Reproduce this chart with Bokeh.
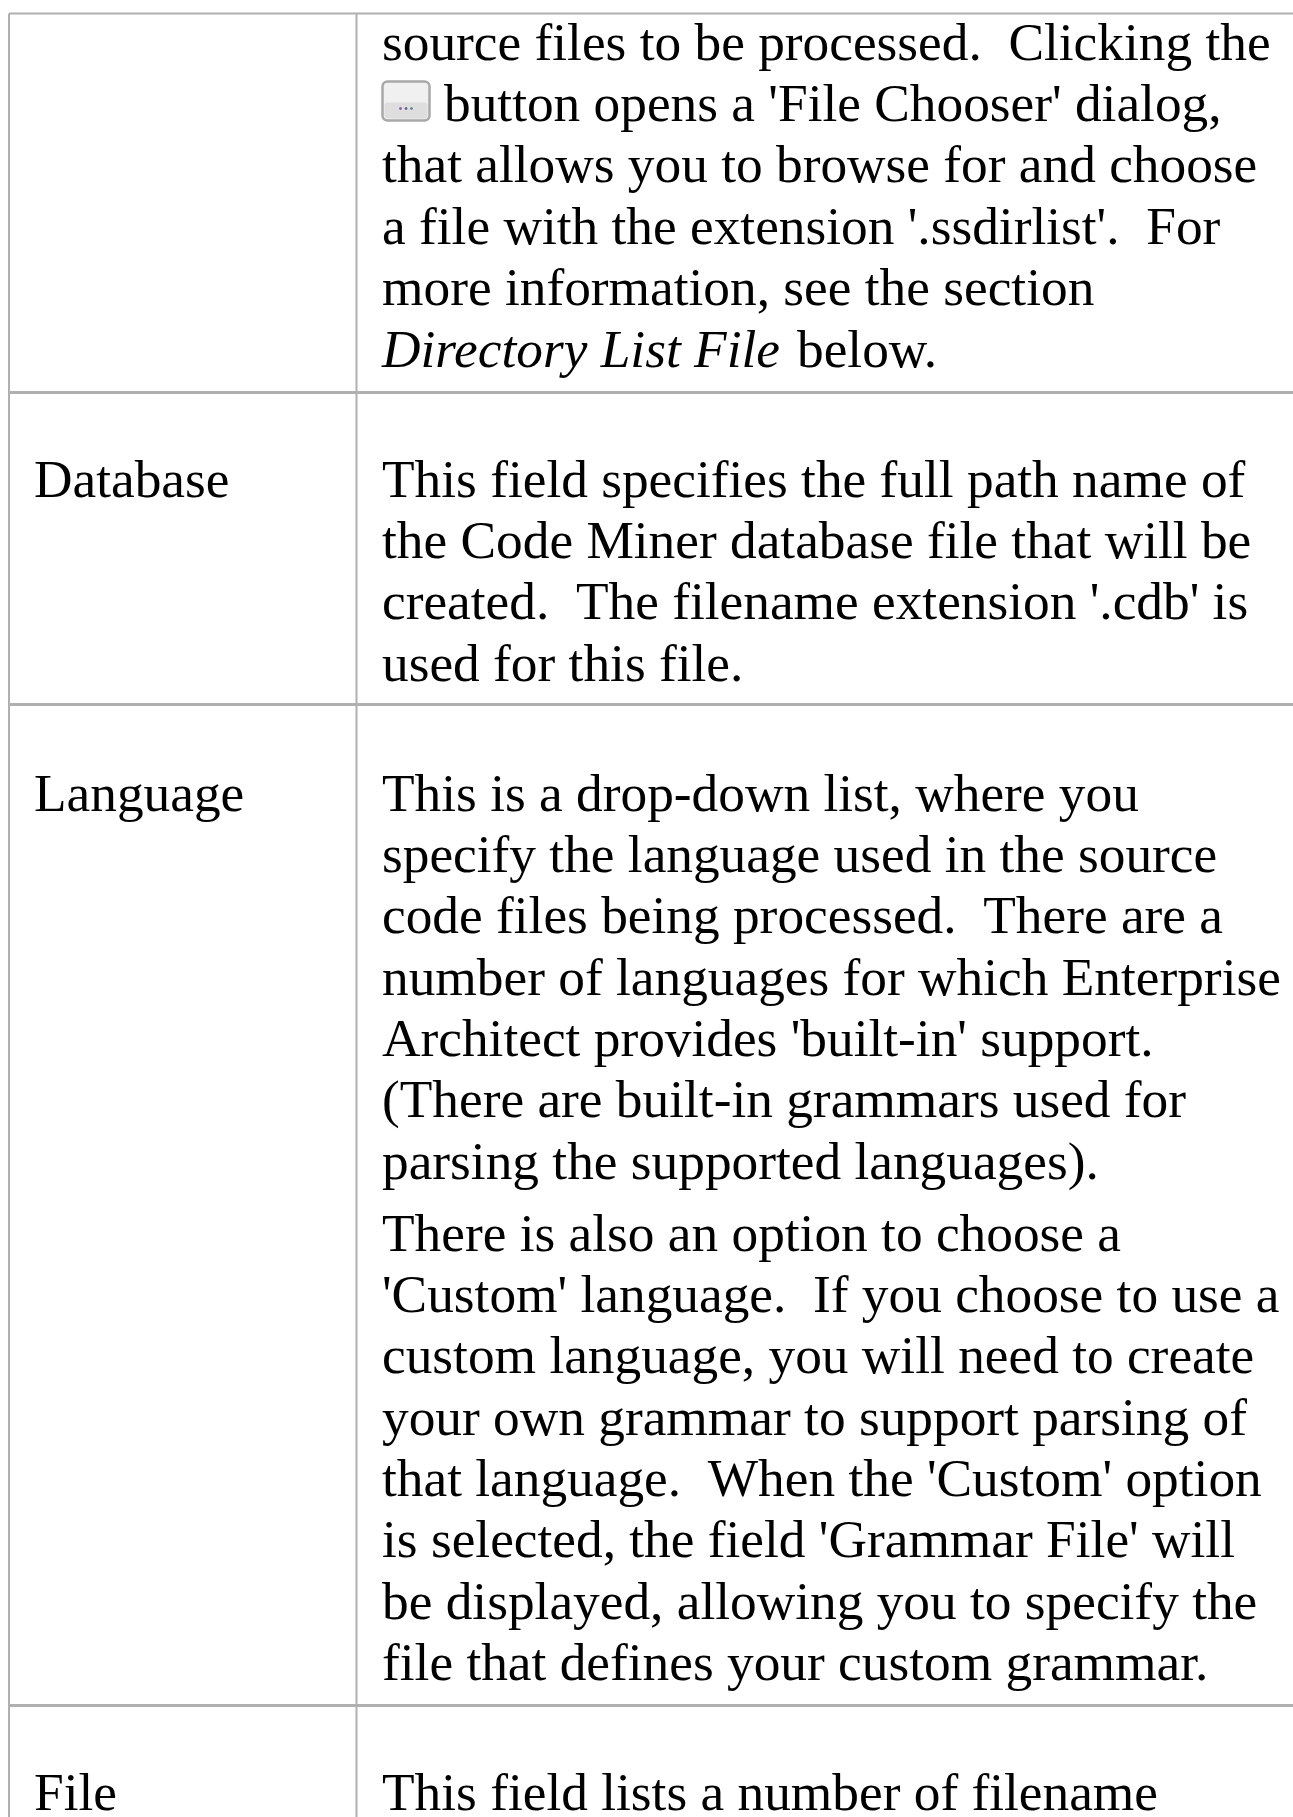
from bokeh.plotting import figure
from bokeh.embed import file_html
from bokeh.resources import INLINE
from bokeh.core.properties import value
from bokeh.models import Range1d

FONT = "Liberation Serif"
FONT_SIZE = "53.33px"
PITCH = 61.35
S = "\u00a0"

left_labels = ["Database", "Language", "File"]
left_baselines = [478, 792, 1791]

para_first = [41, 478, 792, 1232, 1791]
para_lines = [
    [f"source files to be processed. {S}Clicking the",
     "",
     "that allows you to browse for and choose",
     f"a file with the extension '.ssdirlist'. {S}For",
     "more information, see the section"],
    ["This field specifies the full path name of",
     "the Code Miner database file that will be",
     f"created. {S}The filename extension '.cdb' is",
     "used for this file."],
    ["This is a drop-down list, where you",
     "specify the language used in the source",
     f"code files being processed. {S}There are a",
     "number of languages for which Enterprise",
     "Architect provides 'built-in' support.",
     "(There are built-in grammars used for",
     "parsing the supported languages)."],
    ["There is also an option to choose a",
     f"'Custom' language. {S}If you choose to use a",
     "custom language, you will need to create",
     "your own grammar to support parsing of",
     f"that language. {S}When the 'Custom' option",
     "is selected, the field 'Grammar File' will",
     "be displayed, allowing you to specify the",
     "file that defines your custom grammar."],
    ["This field lists a number of filename"],
]
button_line = "button opens a 'File Chooser' dialog,"
italic_text = "Directory List File"
italic_tail = "below."
italic_baseline = 348

row_rules = [392, 704, 1705]
W, H = 1293, 1817
TOP, LEFT, DIV = 13, 8.5, 356
TEXT_X, LABEL_X = 381.5, 33.5
RULE = "#b0b0b0"

p = figure(width=W, height=H, output_backend="svg", toolbar_location=None,
           x_range=Range1d(0, W), y_range=Range1d(H, 0),
           min_border=0, outline_line_color=None)
p.axis.visible = False
p.xgrid.visible = False
p.ygrid.visible = False
p.background_fill_color = "white"

p.segment([LEFT, LEFT, DIV], [TOP, TOP, TOP], [W, LEFT, DIV], [TOP, H, H],
          line_color=RULE, line_width=2)
p.segment([LEFT] * len(row_rules), row_rules, [W] * len(row_rules), row_rules,
          line_color=RULE, line_width=3)


def put(x, y, t, style="normal"):
    p.text([x], [y], text=[t], text_font=value(FONT), text_font_size=value(FONT_SIZE),
           text_font_style=style, text_color="black", text_baseline="alphabetic", text_align="left")


for lab, y in zip(left_labels, left_baselines):
    put(LABEL_X, y, lab)
for first, lines in zip(para_first, para_lines):
    for i, line in enumerate(lines):
        if line:
            put(TEXT_X, first + i * PITCH, line)

put(443.5, 41 + PITCH, button_line)
put(TEXT_X, italic_baseline, italic_text, "italic")
put(796.5, italic_baseline, italic_tail)

# the small '...' button
p.quad(left=[382], right=[429], top=[81], bottom=[120], fill_color="#f0f0f0", line_color="#a8a8a8",
       line_width=2.5, border_radius=5)
p.quad(left=[384], right=[427], top=[102], bottom=[118], fill_color="#dedede", line_color=None, border_radius=3)
p.scatter([400, 405.5, 411], [108, 108, 108], size=2, color=["#8a5a9a", "#666680", "#5a8a9a"])

open("out.html", "w").write(file_html(p, INLINE))
